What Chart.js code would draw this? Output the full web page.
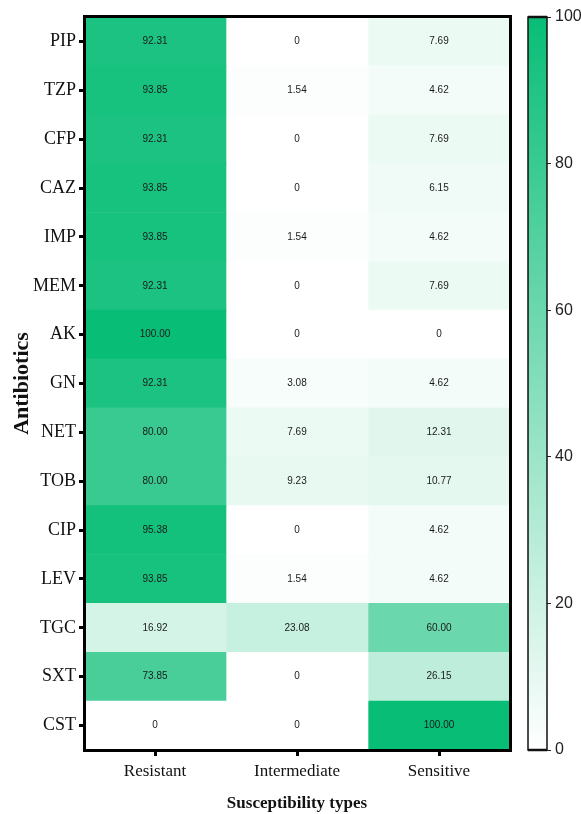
<!DOCTYPE html>
<html>
<head>
<meta charset="utf-8">
<title>Antibiotic susceptibility heatmap</title>
<script src="https://cdn.jsdelivr.net/npm/chart.js@4.4.1/dist/chart.umd.min.js"></script>
<style>
  html, body { margin: 0; padding: 0; background: #ffffff; }
  #wrap { position: relative; width: 581px; height: 814px; }
  #heat { position: absolute; left: 0; top: 0; }
  #bar { position: absolute; left: 510px; top: 0; }
</style>
</head>
<body>
<div id="wrap">
  <canvas id="heat" width="581" height="814"></canvas>
  <canvas id="bar" width="71" height="814"></canvas>
</div>
<script>
// Rows (antibiotics) and columns (susceptibility types)
const antibiotics = ['PIP', 'TZP', 'CFP', 'CAZ', 'IMP', 'MEM', 'AK', 'GN', 'NET', 'TOB', 'CIP', 'LEV', 'TGC', 'SXT', 'CST'];
const types = ['Resistant', 'Intermediate', 'Sensitive'];

// Percentages for each susceptibility type
const resistant    = [92.31, 93.85, 92.31, 93.85, 93.85, 92.31, 100.00, 92.31, 80.00, 80.00, 95.38, 93.85, 16.92, 73.85, 0];
const intermediate = [0, 1.54, 0, 0, 1.54, 0, 0, 3.08, 7.69, 9.23, 0, 1.54, 23.08, 0, 0];
const sensitive    = [7.69, 4.62, 7.69, 6.15, 4.62, 7.69, 0, 4.62, 12.31, 10.77, 4.62, 4.62, 60.00, 26.15, 100.00];

// Colour-bar ticks
const scaleMin = 0;
const scaleMax = 100;
const scaleStep = 20;

const columns = [resistant, intermediate, sensitive];

// White -> green colour ramp
const LOW = [255, 255, 255];
const HIGH = [8, 189, 118];
function rampColor(v) {
  const t = Math.max(0, Math.min(1, (v - scaleMin) / (scaleMax - scaleMin)));
  const c = LOW.map((l, i) => Math.round(l + (HIGH[i] - l) * t));
  return `rgb(${c[0]},${c[1]},${c[2]})`;
}
function fmt(v) { return v === 0 ? '0' : v.toFixed(2); }

const serif = "'Liberation Serif', 'Times New Roman', serif";
const sans = "'Liberation Sans', Arial, sans-serif";

// Each column is a stacked segment of width 1 on a 0..3 axis
const datasets = columns.map((vals, ci) => ({
  label: types[ci],
  data: vals.map(() => 1),
  values: vals,
  backgroundColor: vals.map(rampColor),
  borderWidth: 0,
  barPercentage: 1,
  categoryPercentage: 1
}));

// Cell value labels and the thick frame around the plot area
const cellText = {
  id: 'cellText',
  afterDatasetsDraw(chart) {
    const ctx = chart.ctx;
    ctx.save();
    ctx.font = '10px ' + sans;
    ctx.fillStyle = '#1a1a1a';
    ctx.textAlign = 'center';
    ctx.textBaseline = 'middle';
    chart.data.datasets.forEach((ds, di) => {
      chart.getDatasetMeta(di).data.forEach((el, i) => {
        ctx.fillText(fmt(ds.values[i]), (el.x + el.base) / 2, el.y);
      });
    });
    const a = chart.chartArea;
    ctx.strokeStyle = '#000';
    ctx.lineWidth = 3;
    ctx.strokeRect(a.left + 0.5, a.top - 0.5, a.right - a.left, a.bottom - a.top + 1);
    ctx.restore();
  }
};

new Chart(document.getElementById('heat'), {
  type: 'bar',
  data: { labels: antibiotics, datasets },
  options: {
    indexAxis: 'y',
    responsive: false,
    animation: false,
    layout: { padding: { left: 0, top: 17, right: 71, bottom: 0 } },
    plugins: { legend: { display: false }, tooltip: { enabled: false } },
    scales: {
      x: {
        type: 'linear',
        stacked: true,
        min: 0,
        max: 3,
        afterBuildTicks(scale) {
          scale.ticks = types.map((t, i) => ({ value: i + 0.5 }));
        },
        afterFit(scale) { scale.height = 64; },
        ticks: {
          callback: (v, i) => types[i],
          color: '#111',
          font: { family: serif, size: 17 },
          padding: 5,
          maxRotation: 0
        },
        grid: { drawOnChartArea: false, tickLength: 6, tickWidth: 3, tickColor: '#000' },
        border: { display: false },
        title: {
          display: true,
          text: 'Susceptibility types',
          color: '#111',
          font: { family: serif, size: 17, weight: 'bold' },
          padding: { top: 0, bottom: 0 }
        }
      },
      y: {
        type: 'category',
        stacked: true,
        afterFit(scale) { scale.width = 84; },
        ticks: {
          color: '#111',
          font: { family: serif, size: 18 },
          padding: 3
        },
        grid: { offset: false, drawOnChartArea: false, tickLength: 5, tickWidth: 3, tickColor: '#000' },
        border: { display: false },
        title: {
          display: true,
          text: 'Antibiotics',
          color: '#111',
          font: { family: serif, size: 22, weight: 'bold' },
          padding: { top: 9, bottom: 0 }
        }
      }
    }
  },
  plugins: [cellText]
});

// Colour bar frame
const barFrame = {
  id: 'barFrame',
  afterDatasetsDraw(chart) {
    const ctx = chart.ctx;
    const a = chart.chartArea;
    ctx.save();
    ctx.strokeStyle = '#111';
    ctx.lineWidth = 1.5;
    ctx.strokeRect(a.left, a.top, a.right - a.left, a.bottom - a.top);
    ctx.lineWidth = 2.5;
    ctx.beginPath();
    ctx.moveTo(a.left, a.top); ctx.lineTo(a.right, a.top);
    ctx.moveTo(a.left, a.bottom); ctx.lineTo(a.right, a.bottom);
    ctx.stroke();
    ctx.restore();
  }
};

new Chart(document.getElementById('bar'), {
  type: 'bar',
  data: {
    labels: [''],
    datasets: [{
      data: [scaleMax],
      borderWidth: 0,
      barPercentage: 1,
      categoryPercentage: 1,
      backgroundColor(c) {
        const area = c.chart.chartArea;
        if (!area) return rampColor(scaleMax);
        const g = c.chart.ctx.createLinearGradient(0, area.bottom, 0, area.top);
        for (let k = 0; k <= 10; k++) {
          g.addColorStop(k / 10, rampColor(scaleMin + (scaleMax - scaleMin) * k / 10));
        }
        return g;
      }
    }]
  },
  options: {
    responsive: false,
    animation: false,
    layout: { padding: { left: 18, top: 17, right: 0, bottom: 64 } },
    plugins: { legend: { display: false }, tooltip: { enabled: false } },
    scales: {
      x: { display: false },
      y: {
        position: 'right',
        min: scaleMin,
        max: scaleMax,
        afterFit(scale) { scale.width = 34; },
        ticks: {
          stepSize: scaleStep,
          color: '#222',
          font: { family: sans, size: 16 },
          padding: 4
        },
        grid: { drawOnChartArea: false, tickLength: 4, tickWidth: 1, tickColor: '#222' },
        border: { display: false }
      }
    }
  },
  plugins: [barFrame]
});
</script>
</body>
</html>
